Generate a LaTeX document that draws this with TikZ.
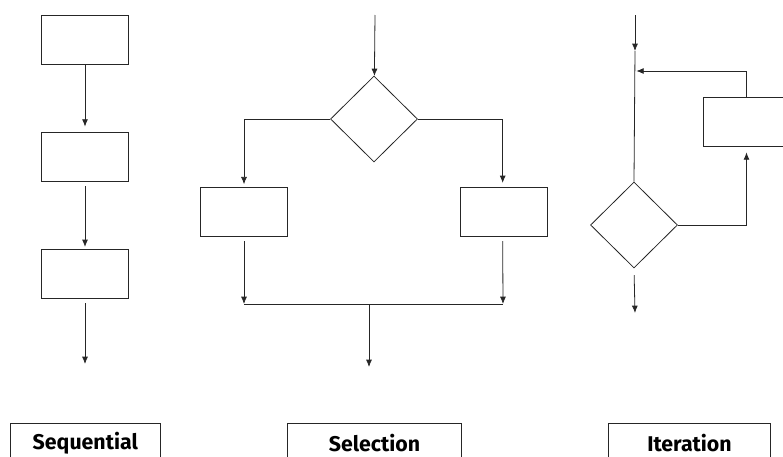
\documentclass[tikz,border=0pt]{standalone}
\usepackage{fontspec}
\setsansfont{Fira Sans}
\usetikzlibrary{shapes.geometric, arrows, arrows.meta, positioning}
\tikzstyle{block} = [rectangle, draw=black!85, line width=0.6pt, minimum width=65.25pt, minimum height=37pt]
\tikzstyle{decision} = [diamond, draw=black!85, line width=0.6pt, minimum width=65.25pt, minimum height=64.5pt, inner sep=0pt]
\tikzstyle{titlebox} = [rectangle, draw=black!85, line width=0.6pt, minimum height=30pt, font=\sffamily\bfseries\fontsize{16}{18}\selectfont]
\tikzstyle{arrow} = [line width=0.6pt, draw=black!85, -{Latex[length=5.5pt,width=4.5pt]}]
\tikzstyle{line} = [line width=0.6pt, draw=black!85]

\begin{document}
\begin{tikzpicture}[x=0.75pt, y=-0.75pt]
	\useasboundingbox (0,0) rectangle (783,457);
	% sequential
	\node[block] (s1) at (85,40) {};
	\node[block] (s2) at (85,157) {};
	\node[block] (s3) at (85,274) {};
	\coordinate (s-out) at (85,364);
	\draw[arrow, shorten >=4pt] (s1) -- (s2);
	\draw[arrow, shorten <=3pt, shorten >=1.5pt] (s2) -- (s3);
	\draw[arrow, shorten <=3pt] (s3) -- (s-out);
	% selection
	\coordinate (sel-in) at (375,15);
	\node[decision] (d1) at (374,119) {};
	\node[block] (l1) at (244,212) {};
	\node[block] (r1) at (504,212) {};
	\coordinate (jl) at (244,304);
	\coordinate (jr) at (503,304);
	\coordinate (jm) at (369,304);
	\coordinate (sel-out) at (369,367);
	\draw[arrow] (sel-in) -- (d1);
	\draw[arrow, shorten >=2pt] (d1.west) -| (l1.north);
	\draw[arrow, shorten >=3pt] (d1.east) -| ([xshift=-1pt]r1.north);
	\draw[arrow, shorten <=3pt] (l1) -- (jl);
	\draw[arrow, shorten <=3pt] ([xshift=-1pt]r1.south) -- (jr);
	\draw[line] (jl) -- (jr);
	\draw[arrow] (jm) -- (sel-out);
	% iteration
	\coordinate (it-in) at (635,15);
	\coordinate (it-mid) at (635,51);
	\coordinate (it-join) at (635,71);
	\coordinate (it-out) at (635,313);
	\node[decision] (d2) at (634,225) {};
	\node[block] (b2) at (746.5,122) {};
	\draw[arrow] (it-in) -- (it-mid);
	\draw[line] (it-mid) -- (d2.north);
	\draw[arrow, shorten >=1pt] (b2.north) |- (it-join);
	\draw[arrow, shorten >=4pt] (d2.east) -| (b2.south);
	\draw[arrow, shorten <=5pt] (d2.south) -- (it-out);
	% titles
	\node[titlebox, minimum width=112pt] (seq) at (85.3,443) {Sequential};
	\node[titlebox, minimum width=131pt] (sel) at (374.5,443) {Selection};
	\node[titlebox, minimum width=122pt] (ite) at (689.5,443) {Iteration};
\end{tikzpicture}
\end{document}
